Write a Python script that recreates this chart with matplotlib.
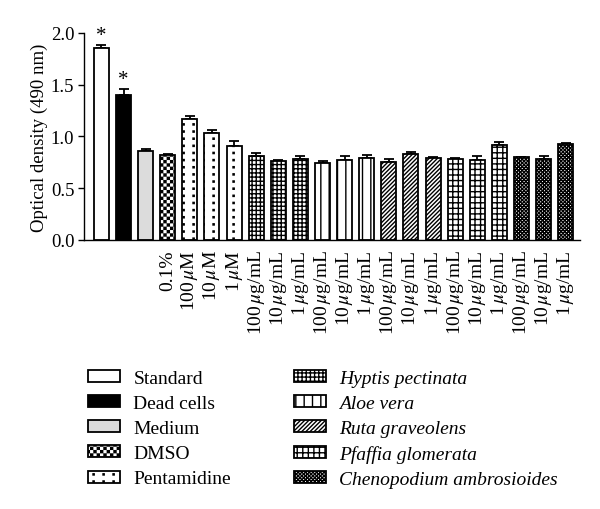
import warnings
warnings.filterwarnings('ignore')
import numpy as np
import matplotlib
matplotlib.use('Agg')
import matplotlib.pyplot as plt
import matplotlib.hatch as mhatch
from matplotlib.path import Path
from matplotlib.patches import Patch

# ---------------- data ----------------
groups = ['Standard', 'Dead cells', 'Medium', 'DMSO', 'Pentamidine',
          'Hyptis pectinata', 'Aloe vera', 'Ruta graveolens',
          'Pfaffia glomerata', 'Chenopodium ambrosioides']
bar_group = [0, 1, 2, 3, 4, 4, 4, 5, 5, 5, 6, 6, 6, 7, 7, 7, 8, 8, 8, 9, 9, 9]
values = [1.85, 1.40, 0.86, 0.82,
          1.165, 1.03, 0.91,
          0.81, 0.765, 0.78,
          0.74, 0.77, 0.79,
          0.75, 0.825, 0.787,
          0.785, 0.775, 0.915,
          0.797, 0.78, 0.928]
errors = [0.03, 0.06, 0.02, 0.01,
          0.033, 0.03, 0.04,
          0.03, 0.005, 0.03,
          0.02, 0.04, 0.03,
          0.03, 0.02, 0.01,
          0.01, 0.03, 0.03,
          0.005, 0.03, 0.008]
tick_labels = ['', '', '', '0.1%',
               '100$\\,\\mu$M', '10$\\,\\mu$M', '1$\\,\\mu$M'] + \
              ['100$\\,\\mu$g/mL', '10$\\,\\mu$g/mL', '1$\\,\\mu$g/mL'] * 5
significant = [0, 1]

# ---------------- styles ----------------
face = ['white', 'black', '#dcdcdc', 'white', 'white', 'white', 'white',
        'white', 'white', 'white']
hatches = [None, None, None, 'ccccc', 'p', '++++', '||', '////////', '+++',
           'xxxxxxxxx']


# custom hatch patterns: checkerboard ('c') and sparse dot grid ('p')
class CheckerHatch(mhatch.HatchPatternBase):
    def __init__(self, hatch, density):
        self.n = hatch.count('c') * density
        self.num_vertices = (self.n * self.n // 2) * 5

    def set_vertices_and_codes(self, vertices, codes):
        n = self.n
        step = 1.0 / n
        pad = 0.0065
        s = step - 2 * pad
        k = 0
        for i in range(n):
            for j in range(n):
                if (i + j) % 2 == 0:
                    x0 = i * step + pad
                    y0 = j * step + pad
                    vertices[k:k + 5] = [[x0, y0], [x0 + s, y0], [x0 + s, y0 + s],
                                         [x0, y0 + s], [x0, y0]]
                    codes[k:k + 5] = [Path.MOVETO, Path.LINETO, Path.LINETO,
                                      Path.LINETO, Path.CLOSEPOLY]
                    k += 5


class DotGridHatch(mhatch.HatchPatternBase):
    def __init__(self, hatch, density):
        if 'p' in hatch:
            self.nx, self.ny = 10, 14
        else:
            self.nx, self.ny = 0, 0
        self.num_vertices = self.nx * self.ny * 5

    def set_vertices_and_codes(self, vertices, codes):
        s = 0.012
        k = 0
        for i in range(self.nx):
            for j in range(self.ny):
                x0 = (i + 0.3) / self.nx
                y0 = (j + 0.5) / self.ny
                vertices[k:k + 5] = [[x0, y0], [x0 + s, y0], [x0 + s, y0 + s],
                                     [x0, y0 + s], [x0, y0]]
                codes[k:k + 5] = [Path.MOVETO, Path.LINETO, Path.LINETO,
                                  Path.LINETO, Path.CLOSEPOLY]
                k += 5


mhatch._hatch_types.append(CheckerHatch)
mhatch._hatch_types.append(DotGridHatch)

plt.rcParams['font.family'] = ['Liberation Serif', 'DejaVu Serif']
plt.rcParams['mathtext.fontset'] = 'stix'
plt.rcParams['hatch.linewidth'] = 1.0

fig = plt.figure(figsize=(6.0, 5.1), dpi=100)
ax = fig.add_axes([0.14, 0.528, 0.8267, 0.4055])

x = np.arange(len(values))
for i, (v, e, g) in enumerate(zip(values, errors, bar_group)):
    ax.bar(x[i], v, width=0.68, facecolor=face[g], edgecolor='black',
           linewidth=1.3, hatch=hatches[g], zorder=2)
ax.errorbar(x, values, yerr=[np.zeros(len(errors)), errors], fmt='none',
            ecolor='black', elinewidth=1.3, capsize=3.3, capthick=1.3, zorder=1)

for i in significant:
    ax.text(x[i], values[i] + errors[i] + 0.0, '*', ha='center', va='bottom',
            fontsize=15)

ax.set_xlim(-0.79, 21.65)
ax.set_ylim(0, 2.0)
ax.set_yticks([0.0, 0.5, 1.0, 1.5, 2.0])
ax.set_yticklabels(['0.0', '0.5', '1.0', '1.5', '2.0'], fontsize=13.5)
ax.set_xticks(x)
ax.set_xticklabels(tick_labels, rotation=90, fontsize=14, ha='center', va='top')
ax.tick_params(axis='x', length=0, pad=7)
ax.tick_params(axis='y', length=4, width=1.0, direction='out', pad=3)
ax.set_ylabel('Optical density (490 nm)', fontsize=13.5, labelpad=2)
for side in ['top', 'right']:
    ax.spines[side].set_visible(False)
ax.spines['left'].set_linewidth(1.0)
ax.spines['bottom'].set_linewidth(1.0)

handles = [Patch(facecolor=face[g], edgecolor='black', linewidth=1.3,
                 hatch=hatches[g]) for g in range(len(groups))]
leg = fig.legend(handles, groups, ncol=2, loc='upper left',
                 bbox_to_anchor=(0.147, 0.273), frameon=False, fontsize=14,
                 handlelength=1.65, handleheight=0.57, handletextpad=0.67,
                 labelspacing=0.42, columnspacing=3.25, borderpad=0,
                 borderaxespad=0)
for t in leg.get_texts()[5:]:
    t.set_fontstyle('italic')

fig.savefig('out.png', dpi=100)
